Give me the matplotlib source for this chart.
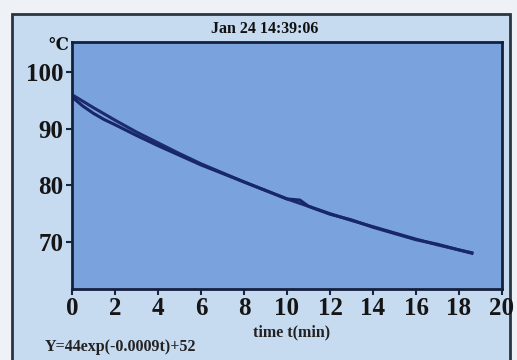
import matplotlib.pyplot as plt
from matplotlib.patches import Rectangle

# readings taken off the instrument screen
t_meas = [0, 0.5, 1, 1.5, 2, 3, 4, 5, 6, 7, 8, 9, 10, 10.6, 11, 12, 13, 14, 15, 16, 17, 18, 18.6]
temp_meas = [95.6, 94.0, 92.7, 91.6, 90.7, 88.8, 87.0, 85.3, 83.6, 82.1, 80.6, 79.1, 77.6, 77.4, 76.3, 74.9, 73.9, 72.6, 71.5, 70.4, 69.6, 68.6, 68.0]

t_fit = [0, 1, 2, 3, 4, 5, 6, 7, 8, 9, 10, 11, 12, 13, 14, 15, 16, 17, 18, 18.6]
temp_fit = [96.0, 93.7, 91.5, 89.4, 87.5, 85.6, 83.8, 82.2, 80.6, 79.1, 77.6, 76.3, 75.0, 73.8, 72.7, 71.6, 70.5, 69.5, 68.6, 68.1]

title = 'Jan 24 14:39:06'
fit_text = 'Y=44exp(-0.0009t)+52'

W, H = 517, 360
fig = plt.figure(figsize=(W / 100, H / 100), dpi=100)
fig.patch.set_facecolor('#eef1f5')
plt.rcParams['font.family'] = ['Liberation Serif', 'DejaVu Serif']

# screen frame, kept behind the axes
fig.patches.append(Rectangle((12 / W, -0.05), 498 / W, 1.05 - 14 / H,
                             transform=fig.transFigure, facecolor='#c6daf0',
                             edgecolor='#2b3542', linewidth=2.0, zorder=-10))

ax = fig.add_axes([72 / W, 1 - 289 / H, 430 / W, 247 / H])
ax.set_facecolor('#7aa2dc')
ax.plot(t_fit, temp_fit, color='#1c2b6e', linewidth=2.2)
ax.plot(t_meas, temp_meas, color='#18266a', linewidth=2.2)

ax.set_xlim(0, 20)
ax.set_ylim(61.7, 105.3)
ax.set_xticks(range(0, 21, 2))
ax.set_yticks([70, 80, 90, 100])
ax.tick_params(axis='both', direction='out', length=4, width=1.5, color='#1c2540',
               labelsize=18, pad=2, labelcolor='#151515')
for lab in ax.get_xticklabels() + ax.get_yticklabels():
    lab.set_fontweight('bold')
for s in ax.spines.values():
    s.set_color('#15203e')
    s.set_linewidth(2.0)

fig.text(265 / W, 1 - 29 / H, title, ha='center', va='center', fontsize=11.5,
         fontweight='bold', color='#111111')
fig.text(58 / W, 1 - 46 / H, '℃', ha='center', va='center', fontsize=12,
         fontweight='bold', color='#111111', family=['DejaVu Serif'])
fig.text(292 / W, 1 - 332 / H, 'time t(min)', ha='center', va='center', fontsize=11.5,
         fontweight='bold', color='#222222')
fig.text(45 / W, 1 - 347 / H, fit_text, ha='left', va='center', fontsize=11.5,
         fontweight='bold', color='#222222')

fig.savefig('out.png', dpi=100, facecolor=fig.get_facecolor())
